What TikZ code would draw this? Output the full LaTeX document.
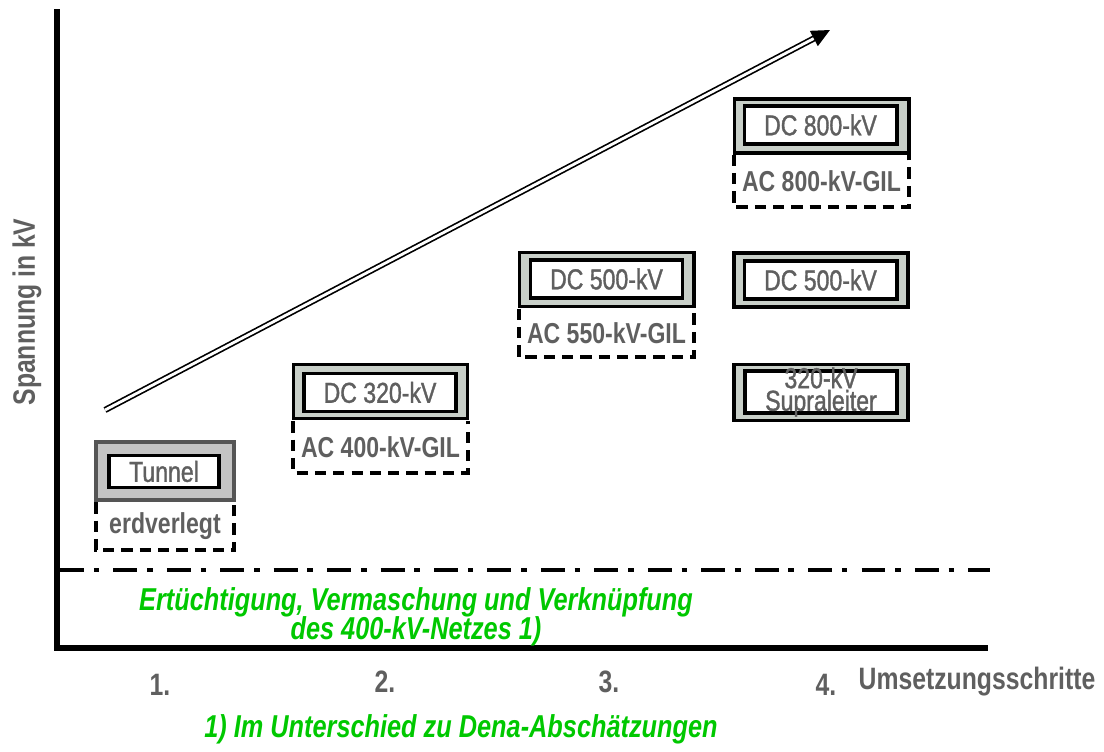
\documentclass[tikz,border=0pt]{standalone}
\usepackage{fontspec}
\setmainfont{Liberation Sans}[FakeStretch=0.8]
\newfontfamily\medfont{Liberation Sans}[FakeStretch=0.8,FakeBold=1.2]
\usepackage{xcolor}
\usepackage{tikz}
\usetikzlibrary{arrows.meta,positioning}
\definecolor{txtgray}{HTML}{5F5F5F}
\definecolor{boxfill}{HTML}{C8CFC8}
\definecolor{tunfill}{HTML}{C4C4C4}
\definecolor{tunline}{HTML}{555555}
\definecolor{ggreen}{HTML}{00C800}

\begin{document}
\begin{tikzpicture}[x=0.025cm,y=-0.025cm,
	outerbox/.style={draw=black,line width=2.8pt,fill=boxfill,minimum width=4.35cm,minimum height=1.35cm,inner sep=0pt},
	innerbox/.style={draw=black,line width=2.8pt,fill=white,minimum width=3.8cm,minimum height=0.95cm,inner sep=0pt,text=txtgray,font=\fontsize{20.5}{13}\medfont},
	gillabel/.style={minimum width=4.35cm,minimum height=1.25cm,inner sep=0pt,text=txtgray,font=\fontsize{20.5}{22}\selectfont\bfseries},
	dashbox/.style={line width=2.8pt,dash pattern=on 8pt off 5pt},
	grtext/.style={text=ggreen,font=\fontsize{22.5}{21}\selectfont\bfseries\itshape,align=center},
	gytext/.style={text=txtgray,font=\fontsize{22}{24}\selectfont\bfseries}]
	\useasboundingbox (0,0) rectangle (1104,751);
	% axes
	\coordinate (origin) at (57,648);
	\coordinate (ytop) at (57,9);
	\coordinate (xend) at (988,648);
	\draw[line width=3.6pt] (ytop) -- (origin) -- (xend);
	\coordinate (dl) at (60,570);
	\coordinate (dr) at (990,570);
	\draw[line width=3.2pt,dash pattern=on 17pt off 7pt on 4pt off 10pt] (dl) -- (dr);
	% rising arrow
	\coordinate (astart) at (105,410);
	\coordinate (aend) at (830,30);
	\draw[double,double distance=2pt,line width=1.2pt,-{Triangle[length=13pt,width=12pt]}] (astart) -- (aend);
	% step 1
	\node[outerbox,draw=tunline,fill=tunfill,minimum width=3.45cm,minimum height=1.45cm] (tun) at (165,471) {};
	\node[innerbox,minimum width=2.75cm,minimum height=0.8cm] (tunin) at (164,471.5) {Tunnel};
	\node[gillabel,minimum width=3.45cm,minimum height=1.17cm] (erd) at (165,526) {erdverlegt};
	\draw[dashbox] (erd.north west) |- (erd.south east) -- (erd.north east);
	% step 2
	\node[outerbox] (dc320) at (380.5,391.5) {};
	\node[innerbox] (dc320in) at (380,392.5) {DC 320-kV};
	\node[gillabel,minimum height=1.27cm] (ac400) at (380.5,447) {AC 400-kV-GIL};
	\draw[dashbox] (ac400.north west) |- (ac400.south east) -- (ac400.north east);
	% step 3
	\node[outerbox] (dc500a) at (606.5,279.5) {};
	\node[innerbox] (dc500ain) at (606.5,279) {DC 500-kV};
	\node[gillabel,minimum height=1.2cm] (ac550) at (606.5,333) {AC 550-kV-GIL};
	\draw[dashbox] (ac550.north west) |- (ac550.south east) -- (ac550.north east);
	% step 4
	\node[outerbox] (dc800) at (821.5,126) {};
	\node[innerbox] (dc800in) at (820.5,125) {DC 800-kV};
	\node[gillabel,minimum height=1.3cm] (ac800) at (821.5,181) {AC 800-kV-GIL};
	\draw[dashbox] (ac800.north west) |- (ac800.south east) -- (ac800.north east);
	\node[outerbox] (dc500b) at (821,280) {};
	\node[innerbox] (dc500bin) at (820.5,280) {DC 500-kV};
	\node[outerbox,minimum height=1.4cm] (supra) at (821,392.5) {};
	\node[innerbox,minimum height=1.05cm] (suprain) at (821,392) {};
	\node[innerbox,draw=none,fill=none,minimum size=0pt,align=center] (supratxt) at (suprain) {320-kV\\Supraleiter};
	% labels
	\node[gytext,rotate=90] (ylab) at (27,312) {Spannung in kV};
	\node[gytext] (xlab) at (977,682) {Umsetzungsschritte};
	\node[gytext] (s1) at (160,685) {1.};
	\node[gytext] (s2) at (385,682) {2.};
	\node[gytext] (s3) at (609,682) {3.};
	\node[gytext] (s4) at (826,685) {4.};
	\node[grtext] (netz) at (416,617) {Ertüchtigung, Vermaschung und Verknüpfung\\des 400-kV-Netzes 1)};
	\node[grtext] (dena) at (461,729) {1) Im Unterschied zu Dena-Abschätzungen};
\end{tikzpicture}
\end{document}
